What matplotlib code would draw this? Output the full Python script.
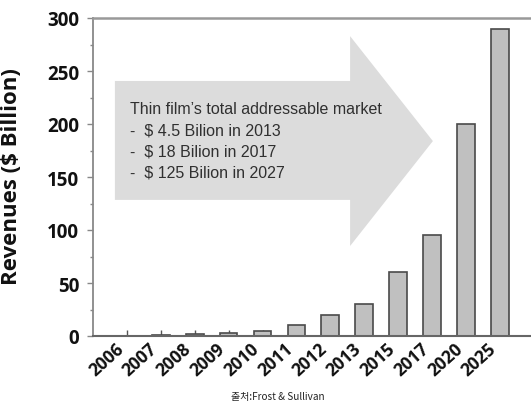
import matplotlib
matplotlib.use("Agg")
import matplotlib.pyplot as plt
from matplotlib.patches import Polygon
from matplotlib.ticker import MultipleLocator

years = ["2006", "2007", "2008", "2009", "2010", "2011", "2012", "2013",
         "2015", "2017", "2020", "2025"]
revenues = [0.3, 1, 2, 3, 5, 10, 20, 30, 60, 95, 200, 290]
yticks = [0, 50, 100, 150, 200, 250, 300]
ylabel = "Revenues ($ Billion)"
note_lines = ["Thin film\u2019s total addressable market",
              "-  $ 4.5 Bilion in 2013",
              "-  $ 18 Bilion in 2017",
              "-  $ 125 Bilion in 2027"]
source = "출처:Frost & Sullivan"

W, H = 531, 406
fig = plt.figure(figsize=(W / 100, H / 100), dpi=100)
ax = fig.add_axes([93 / W, (H - 337) / H, (W - 93) / W, (337 - 19) / H])

# Decorative arrow (axes fraction coordinates)
arrow = Polygon([(0.050, 0.428), (0.050, 0.802), (0.587, 0.802), (0.587, 0.943),
                 (0.776, 0.613), (0.587, 0.283), (0.587, 0.428)],
                closed=True, transform=ax.transAxes, facecolor="#dcdcdc",
                edgecolor="none", zorder=0)
ax.add_patch(arrow)
ax.text(0.084, 0.738, "\n".join(note_lines), transform=ax.transAxes,
        ha="left", va="top", fontsize=11.5, family="Liberation Sans",
        color="#303030", linespacing=1.5, zorder=1)

x = list(range(len(years)))
ax.bar(x, revenues, width=0.52, color="#c0c0c0", edgecolor="#4a4a4a",
       linewidth=1.2, zorder=2)

ax.set_xlim(-1, 11.92)
ax.set_ylim(0, 300)
ax.set_xticks(x)
ax.set_xticklabels(years, rotation=42, ha="right", va="top",
                   fontsize=12.5, fontweight="bold", family="Open Sans",
                   color="#111111")
ax.tick_params(axis="x", direction="in", length=4, width=1, color="#555555", pad=2)
ax.set_yticks(yticks)
ax.yaxis.set_minor_locator(MultipleLocator(25))
ax.tick_params(axis="y", which="major", direction="out", length=4, width=1,
               color="#888888", pad=6, labelsize=13.5, labelcolor="#111111")
ax.tick_params(axis="y", which="minor", direction="out", length=2, width=1,
               color="#888888")
for lab in ax.get_yticklabels():
    lab.set_fontweight("bold")
    lab.set_family("Open Sans")

ax.set_ylabel(ylabel, fontsize=16, fontweight="bold", family="Open Sans",
              color="#111111")
ax.yaxis.set_label_coords(-0.162, 0.506)

ax.spines["right"].set_visible(False)
ax.spines["left"].set_color("#888888")
ax.spines["left"].set_linewidth(1.3)
ax.spines["top"].set_color("#999999")
ax.spines["top"].set_linewidth(1.8)
ax.spines["bottom"].set_color("#666666")
ax.spines["bottom"].set_linewidth(1.5)

fig.text(278 / W, (H - 397) / H, source, ha="center", va="center", fontsize=7.2,
         family=["Noto Sans CJK KR", "DejaVu Sans"], color="#222222")

fig.savefig("out.png", dpi=100)
